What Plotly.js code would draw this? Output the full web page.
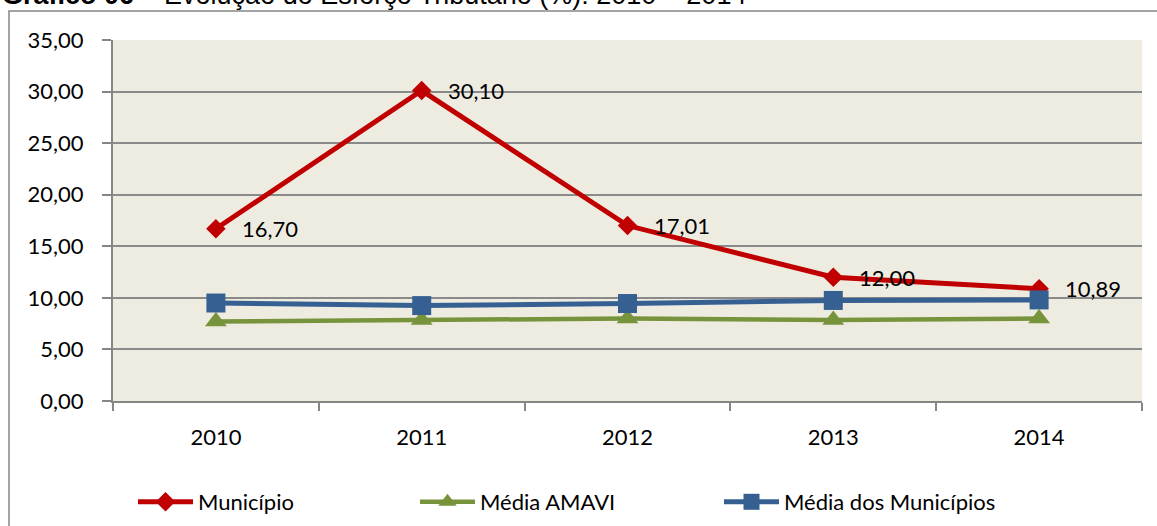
<!DOCTYPE html>
<html>
<head>
<meta charset="utf-8">
<script src="https://cdn.plot.ly/plotly-3.0.1.min.js"></script>
<style>html,body{margin:0;padding:0;background:#fff;}#chart{width:1157px;height:526px;}#err{position:absolute;left:200px;top:150px;color:#f0f;font:14px monospace;white-space:pre;}</style>
</head>
<body>
<div id="chart"></div>
<div id="err"></div>
<script>
window.onerror = function(m, s, l, c, e) { document.getElementById('err').textContent += 'ERR: ' + m + ' @' + l + ':' + c + '\n'; };
const years = ['2010', '2011', '2012', '2013', '2014'];
const municipio = [16.70, 30.10, 17.01, 12.00, 10.89];
const mediaAmavi = [7.70, 7.85, 8.00, 7.85, 8.00];
const mediaMunicipios = [9.50, 9.25, 9.45, 9.75, 9.80];
const seriesNames = ['Município', 'Média AMAVI', 'Média dos Municípios'];
const yTicks = [0, 5, 10, 15, 20, 25, 30, 35];

const FONT = 'Lato, "Open Sans", sans-serif';
const fmt = v => v.toFixed(2).replace('.', ',');

const traces = [
  {
    x: years, y: municipio, name: seriesNames[0], type: 'scatter', mode: 'lines+markers',
    line: {color: '#C00000', width: 5},
    marker: {symbol: 'diamond', size: 15, color: '#C00000'},
    legend: 'legend', showlegend: true
  },
  {
    x: years, y: mediaAmavi, name: seriesNames[1], type: 'scatter', mode: 'lines+markers',
    line: {color: '#77933C', width: 4.5},
    marker: {symbol: 'triangle-up', size: 19, color: '#77933C'},
    legend: 'legend2', showlegend: true
  },
  {
    x: years, y: mediaMunicipios, name: seriesNames[2], type: 'scatter', mode: 'lines+markers',
    line: {color: '#366092', width: 5},
    marker: {symbol: 'square', size: 19, color: '#366092'},
    legend: 'legend3', showlegend: true
  }
];

const annotations = municipio.map((v, i) => ({
  x: i, y: v, xref: 'x', yref: 'y', text: fmt(v), showarrow: false,
  xanchor: 'left', yanchor: 'middle', xshift: 24,
  font: {family: FONT, size: 22, color: '#000000'}
}));

annotations.push({
  xref: 'paper', yref: 'paper', x: -113 / 1029, y: (401 + 5) / 361,
  xanchor: 'left', yanchor: 'middle', showarrow: false,
  text: '<b>Gráfico 06</b> – Evolução do Esforço Tributário (%): 2010 – 2014',
  font: {family: '"Liberation Sans", Arial, sans-serif', size: 27, color: '#000000'}
});

const legendBase = {
  orientation: 'h', yref: 'container', y: 1 - 502 / 526, yanchor: 'middle', xanchor: 'left',
  bgcolor: 'rgba(0,0,0,0)', borderwidth: 0, itemwidth: 55,
  font: {family: FONT, size: 22, color: '#000000'}
};

const layout = {
  width: 1157, height: 526,
  margin: {l: 113, r: 15, t: 40, b: 125},
  paper_bgcolor: '#FFFFFF',
  plot_bgcolor: '#EEECE1',
  separators: ',.',
  showlegend: true,
  font: {family: FONT, size: 22, color: '#000000'},
  xaxis: {
    type: 'category', range: [-0.5, 4.5], tickson: 'boundaries',
    ticks: 'outside', ticklen: 8, tickwidth: 1.5, tickcolor: '#868686',
    showline: true, linecolor: '#868686', linewidth: 2,
    showgrid: false, zeroline: false, fixedrange: true,
    ticklabelstandoff: 16,
    tickfont: {family: FONT, size: 22, color: '#000000'}
  },
  yaxis: {
    range: [0, 35], tickvals: yTicks, tickformat: '.2f',
    ticks: 'outside', ticklen: 9, tickwidth: 1.5, tickcolor: '#868686',
    showline: true, linecolor: '#868686', linewidth: 2,
    showgrid: true, gridcolor: '#8A8A8A', gridwidth: 2,
    zeroline: false, fixedrange: true,
    ticklabelstandoff: 14,
    tickfont: {family: FONT, size: 22, color: '#000000'}
  },
  legend: Object.assign({}, legendBase, {x: (133 - 113) / 1029}),
  legend2: Object.assign({}, legendBase, {x: (415 - 113) / 1029}),
  legend3: Object.assign({}, legendBase, {x: (719 - 113) / 1029}),
  annotations: annotations,
  shapes: [{
    type: 'rect', xref: 'paper', yref: 'paper',
    x0: (9 - 113) / 1029, x1: (1170 - 113) / 1029,
    y0: (401 - 540) / 361, y1: (401 - 11) / 361,
    line: {color: '#868686', width: 1.5}, fillcolor: 'rgba(0,0,0,0)', layer: 'below'
  }]
};

Plotly.newPlot('chart', traces, layout, {displayModeBar: false}).catch(function(e) {
  document.getElementById('err').textContent += 'REJ: ' + (e && e.stack || e) + '\n';
});
</script>
</body>
</html>
